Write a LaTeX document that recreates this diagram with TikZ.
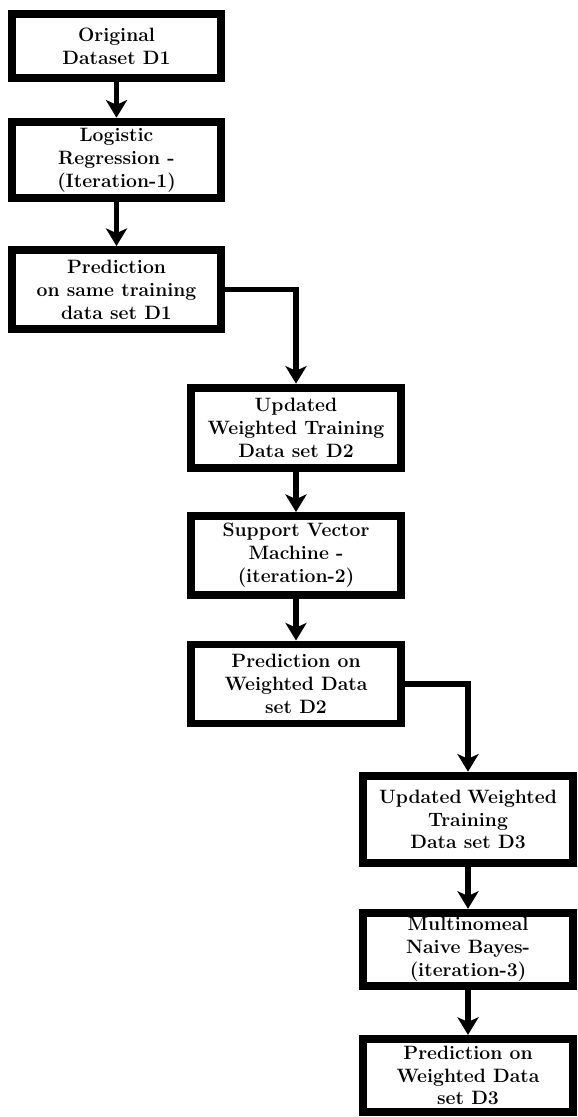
\documentclass[tikz,border=0pt]{standalone}
\usepackage{tikz}
\usetikzlibrary{arrows.meta}

\begin{document}
\begin{tikzpicture}[x=0.03cm, y=-0.03cm,
		blk/.style={draw, line width=6.8pt, minimum width=6.29cm, minimum height=2.37cm,
			align=center, inner sep=1pt, font=\fontsize{16.5}{19.5}\selectfont\bfseries},
		flow/.style={line width=4.3pt, -{Stealth[length=15pt, width=18pt, inset=4pt]}}]
	\useasboundingbox (0,0) rectangle (577,1117);

	\path	(116.5,46) node[blk, minimum height=1.94cm](orig) {Original\\Dataset D1}
		(116.5,160) node[blk, minimum height=2.3cm](logreg) {Logistic\\Regression -\\(Iteration-1)}
		(116.5,289.5) node[blk](predone) {Prediction\\on same training\\data set D1};
	\path	(296,428) node[blk, minimum height=2.42cm](updtwo) {Updated\\Weighted Training\\Data set D2}
		(296,555.5) node[blk](svm) {Support Vector\\Machine -\\(iteration-2)}
		(296,684) node[blk](predtwo) {Prediction on\\Weighted Data\\set D2};
	\path	(468,819.5) node[blk, minimum height=2.63cm](updthree) {Updated\hspace{0.3em}Weighted\\Training\\Data set D3}
		(468,949.5) node[blk, minimum height=2.2cm](mnb) {Multinomeal\\Naive Bayes-\\(iteration-3)}
		(468,1075.5) node[blk, minimum height=2.2cm](predthree) {Prediction on\\Weighted Data\\set D3};

	\draw[flow] (orig) -- (logreg);
	\draw[flow] (logreg) -- (predone);
	\draw[flow] (predone.east) -| (updtwo.north);
	\draw[flow] (updtwo) -- (svm);
	\draw[flow] (svm) -- (predtwo);
	\draw[flow] (predtwo.east) -| (updthree.north);
	\draw[flow] (updthree) -- (mnb);
	\draw[flow] (mnb) -- (predthree);
\end{tikzpicture}
\end{document}
